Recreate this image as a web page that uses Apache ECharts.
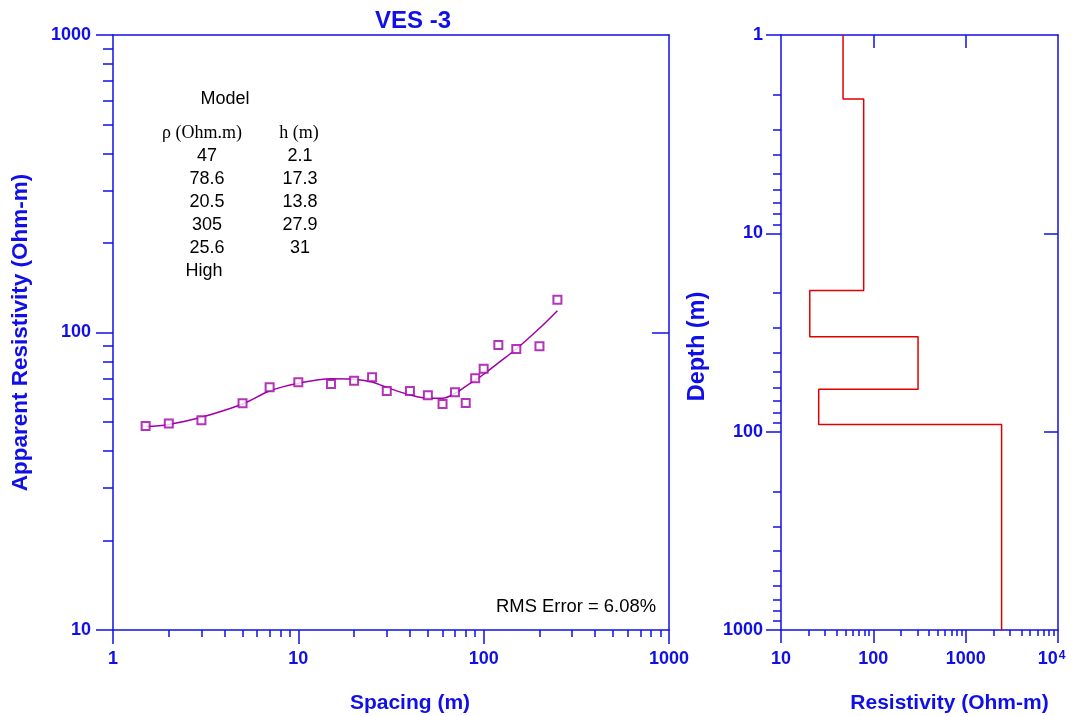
<!DOCTYPE html>
<html><head><meta charset="utf-8">
<script src="https://cdn.jsdelivr.net/npm/echarts@6/dist/echarts.min.js"></script>
<style>html,body{margin:0;padding:0;background:#fff}#c{width:1073px;height:716px}</style>
</head><body><div id="c"></div>
<script>
// ---- data ----
const spacing = [1.5, 2, 3, 5, 7, 10, 15, 20, 25, 30, 40, 50, 60, 70, 80, 90, 100, 120, 150, 200, 250];
const observedRho = [48.5, 49.4, 50.7, 57.8, 65.4, 68.0, 67.1, 68.9, 70.7, 63.6, 63.6, 61.5, 57.5, 63.0, 57.9, 70.2, 75.5, 90.8, 88.0, 89.9, 128.9];
const modelCurveRho = [48.3, 49.1, 51.9, 57.5, 63.6, 67.5, 69.9, 69.7, 68.2, 65.4, 61.7, 60.1, 60.1, 62.4, 65.9, 69.2, 72.4, 79.1, 88.0, 103.3, 118.4];
const layerRho = [47, 78.6, 20.5, 305, 25.6];
const layerThickness = [2.1, 17.3, 13.8, 27.9, 31];
const halfSpaceLabel = 'High';
const halfSpaceRho = 2450;
const rmsError = '6.08';
const spacingTicks = [1, 10, 100, 1000];
const appRhoTicks = [10, 100, 1000];
const resistivityTicks = [10, 100, 1000, 10000];
const depthTicks = [1, 10, 100, 1000];

const BLUE = '#1010e6';
const SANS = 'Liberation Sans, Arial, Helvetica, sans-serif';
const SERIF = 'Liberation Serif, Times New Roman, serif';

function minorOf(majors) {
  const out = [];
  for (let i = 0; i < majors.length - 1; i++) for (let k = 2; k <= 9; k++) out.push(majors[i] * k);
  return out;
}

// step profile from layer model
const stepData = [];
let topDepth = depthTicks[0], cum = 0;
layerRho.forEach((r, i) => {
  cum += layerThickness[i];
  stepData.push([r, topDepth]); stepData.push([r, cum]);
  topDepth = cum;
});
stepData.push([halfSpaceRho, topDepth]);
stepData.push([halfSpaceRho, depthTicks[depthTicks.length - 1]]);

const lineStyle = { color: BLUE, width: 1.5 };
const labelStyle = { color: BLUE, fontWeight: 'bold', fontSize: 18, fontFamily: SANS, formatter: v => String(Math.round(v)) };
const nameStyle = { color: BLUE, fontWeight: 'bold', fontSize: 21, fontFamily: SANS };
const noSplit = { show: false };

function majorAxis(o) {
  return Object.assign({
    type: 'log', logBase: 10,
    axisLine: { show: true, lineStyle },
    axisTick: { show: true, inside: false, length: o.tickLen, lineStyle, customValues: o.ticks },
    axisLabel: Object.assign({ show: true, customValues: o.ticks, margin: o.margin }, labelStyle, o.label || {}),
    splitLine: noSplit, minorTick: { show: false }, minorSplitLine: { show: false },
    nameLocation: 'middle', nameTextStyle: Object.assign({}, nameStyle, o.nameStyle || {})
  }, o.extra);
}
function minorAxis(o) {
  return Object.assign({
    type: 'log', logBase: 10,
    axisLine: { show: false },
    axisTick: { show: true, inside: false, length: o.tickLen, lineStyle, customValues: minorOf(o.ticks) },
    axisLabel: { show: false }, splitLine: noSplit
  }, o.extra);
}
function borderAxis(o) {
  return Object.assign({
    type: 'log', logBase: 10,
    axisLine: { show: true, lineStyle },
    axisTick: o.ticks ? { show: true, inside: true, length: o.tickLen, lineStyle, customValues: o.ticks } : { show: false },
    axisLabel: { show: false }, splitLine: noSplit
  }, o.extra);
}

const chart = echarts.init(document.getElementById('c'), null, { renderer: 'canvas' });

const cellStyle = { fontSize: 18, fontFamily: SANS, fill: '#000', textAlign: 'center', textVerticalAlign: 'middle' };
const tableRows = [];
layerRho.forEach((r, i) => {
  tableRows.push({ type: 'text', x: 207, y: 156 + i * 23, style: Object.assign({ text: String(r) }, cellStyle) });
  tableRows.push({ type: 'text', x: 300, y: 156 + i * 23, style: Object.assign({ text: String(layerThickness[i]) }, cellStyle) });
});
tableRows.push({ type: 'text', x: 204, y: 156 + layerRho.length * 23, style: Object.assign({ text: halfSpaceLabel }, cellStyle) });

const option = {
  backgroundColor: '#fff',
  animation: false,
  title: {
    text: 'VES -3', left: 413, top: 4, textAlign: 'center',
    textStyle: { color: BLUE, fontWeight: 'bold', fontSize: 24, fontFamily: SANS }
  },
  grid: [
    { left: 113, top: 35, width: 556, height: 595, outerBoundsMode: 'none' },
    { left: 781, top: 35, width: 277, height: 595, outerBoundsMode: 'none' }
  ],
  xAxis: [
    majorAxis({ ticks: spacingTicks, tickLen: 14, margin: 20, nameStyle: { padding: [0, 0, 0, 38] },
      extra: { gridIndex: 0, min: 1, max: 1000, position: 'bottom', name: 'Spacing (m)', nameGap: 63 } }),
    minorAxis({ ticks: spacingTicks, tickLen: 7, extra: { gridIndex: 0, min: 1, max: 1000, position: 'bottom' } }),
    borderAxis({ extra: { gridIndex: 0, min: 1, max: 1000, position: 'top' } }),
    majorAxis({ ticks: resistivityTicks, tickLen: 13, margin: 20, nameStyle: { padding: [0, 0, 0, 60] },
      label: {
        formatter: v => Math.round(v) >= 10000 ? '{n|10}{s|4}' : '{n|' + Math.round(v) + '}',
        rich: {
          n: { fontSize: 18, fontWeight: 'bold', color: BLUE, fontFamily: SANS },
          s: { fontSize: 12, fontWeight: 'bold', color: BLUE, fontFamily: SANS, verticalAlign: 'top', padding: [0, 13, 0, 1] }
        }
      },
      extra: { gridIndex: 1, min: 10, max: 10000, position: 'bottom', name: 'Resistivity (Ohm-m)', nameGap: 63 } }),
    minorAxis({ ticks: resistivityTicks, tickLen: 6, extra: { gridIndex: 1, min: 10, max: 10000, position: 'bottom' } }),
    borderAxis({ ticks: [100, 1000], tickLen: 13, extra: { gridIndex: 1, min: 10, max: 10000, position: 'top' } })
  ],
  yAxis: [
    majorAxis({ ticks: appRhoTicks, tickLen: 17, margin: 22, nameStyle: { fontSize: 22.5 },
      extra: { gridIndex: 0, min: 10, max: 1000, position: 'left', name: 'Apparent Resistivity (Ohm-m)', nameGap: 81 } }),
    minorAxis({ ticks: appRhoTicks, tickLen: 10, extra: { gridIndex: 0, min: 10, max: 1000, position: 'left' } }),
    borderAxis({ ticks: [100], tickLen: 17, extra: { gridIndex: 0, min: 10, max: 1000, position: 'right' } }),
    majorAxis({ ticks: depthTicks, tickLen: 15, margin: 18, nameStyle: { fontSize: 23.5, padding: [0, 28, 0, 0] },
      extra: { gridIndex: 1, min: 1, max: 1000, inverse: true, position: 'left', name: 'Depth (m)', nameGap: 71 } }),
    minorAxis({ ticks: depthTicks, tickLen: 8, extra: { gridIndex: 1, min: 1, max: 1000, inverse: true, position: 'left' } }),
    borderAxis({ ticks: [10, 100], tickLen: 14, extra: { gridIndex: 1, min: 1, max: 1000, inverse: true, position: 'right' } })
  ],
  graphic: [
    { type: 'text', x: 225, y: 99, style: Object.assign({}, cellStyle, { text: 'Model' }) },
    { type: 'text', x: 202, y: 133, style: Object.assign({}, cellStyle, { text: 'ρ (Ohm.m)', fontFamily: SERIF }) },
    { type: 'text', x: 299, y: 133, style: Object.assign({}, cellStyle, { text: 'h (m)', fontFamily: SERIF }) },
    ...tableRows,
    { type: 'text', x: 656, y: 607, style: { text: 'RMS Error = ' + rmsError + '%', fontSize: 18.4, fontFamily: SANS, fill: '#000', textAlign: 'right', textVerticalAlign: 'middle' } }
  ],
  series: [
    {
      type: 'line', xAxisIndex: 0, yAxisIndex: 0, smooth: 0.35, showSymbol: false, symbol: 'none',
      data: spacing.map((s, i) => [s, modelCurveRho[i]]),
      lineStyle: { color: '#a000a8', width: 1.5 }, z: 3
    },
    {
      type: 'scatter', xAxisIndex: 0, yAxisIndex: 0, symbol: 'emptyRect', symbolSize: 8,
      data: spacing.map((s, i) => [s, observedRho[i]]),
      itemStyle: { color: '#a000a8', borderWidth: 1.5 }, z: 4
    },
    {
      type: 'line', xAxisIndex: 3, yAxisIndex: 3, showSymbol: false, symbol: 'none',
      data: stepData, lineStyle: { color: '#e00000', width: 1.5 }, z: 3
    }
  ]
};
option.title.left = 408;
chart.setOption(option);
</script></body></html>
